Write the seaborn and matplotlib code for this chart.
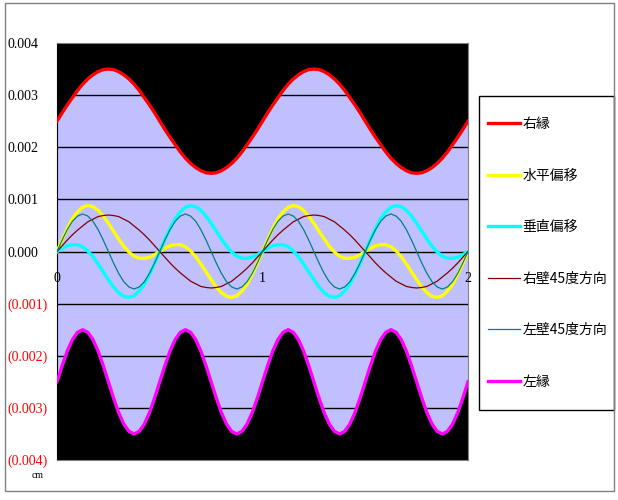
import numpy as np
import pandas as pd
import matplotlib
matplotlib.use("Agg")
import matplotlib.pyplot as plt
from matplotlib.patches import Rectangle
import seaborn as sns

# --- data (values in units of 1e-5) ---
x_cm = [round(0.025 * k, 3) for k in range(81)]

right_edge = [250, 266, 281, 295, 309, 321, 331, 339, 345, 349, 350, 349, 345, 339, 331, 321, 309, 295, 281, 266,
              250, 234, 219, 205, 191, 179, 169, 161, 155, 151, 150, 151, 155, 161, 169, 179, 191, 205, 219, 234,
              250, 266, 281, 295, 309, 321, 331, 339, 345, 349, 350, 349, 345, 339, 331, 321, 309, 295, 281, 266,
              250, 234, 219, 205, 191, 179, 169, 161, 155, 151, 150, 151, 155, 161, 169, 179, 191, 205, 219, 234,
              250]
horiz_shift = [0, 23, 44, 63, 76, 85, 88, 86, 79, 68, 54, 39, 24, 10, -1, -9, -13, -13, -11, -6,
               0, 6, 11, 13, 13, 9, 1, -10, -24, -39, -54, -68, -79, -86, -88, -85, -76, -63, -44, -23,
               0, 23, 44, 63, 76, 85, 88, 86, 79, 68, 54, 39, 24, 10, -1, -9, -13, -13, -11, -6,
               0, 6, 11, 13, 13, 9, 1, -10, -24, -39, -54, -68, -79, -86, -88, -85, -76, -63, -44, -23,
               0]
vert_shift = [0, 6, 11, 13, 13, 9, 1, -10, -24, -39, -54, -68, -79, -86, -88, -85, -76, -63, -44, -23,
              0, 23, 44, 63, 76, 85, 88, 86, 79, 68, 54, 39, 24, 10, -1, -9, -13, -13, -11, -6,
              0, 6, 11, 13, 13, 9, 1, -10, -24, -39, -54, -68, -79, -86, -88, -85, -76, -63, -44, -23,
              0, 23, 44, 63, 76, 85, 88, 86, 79, 68, 54, 39, 24, 10, -1, -9, -13, -13, -11, -6,
              0]
right_wall_45 = [0, 11, 22, 32, 41, 49, 57, 62, 67, 69, 70, 69, 67, 62, 57, 49, 41, 32, 22, 11,
                 0, -11, -22, -32, -41, -49, -57, -62, -67, -69, -70, -69, -67, -62, -57, -49, -41, -32, -22, -11,
                 0, 11, 22, 32, 41, 49, 57, 62, 67, 69, 70, 69, 67, 62, 57, 49, 41, 32, 22, 11,
                 0, -11, -22, -32, -41, -49, -57, -62, -67, -69, -70, -69, -67, -62, -57, -49, -41, -32, -22, -11,
                 0]
left_wall_45 = [0, 22, 42, 58, 68, 72, 68, 58, 42, 22, 0, -22, -42, -58, -68, -72, -68, -58, -42, -22,
                0, 22, 42, 58, 68, 72, 68, 58, 42, 22, 0, -22, -42, -58, -68, -72, -68, -58, -42, -22,
                0, 22, 42, 58, 68, 72, 68, 58, 42, 22, 0, -22, -42, -58, -68, -72, -68, -58, -42, -22,
                0, 22, 42, 58, 68, 72, 68, 58, 42, 22, 0, -22, -42, -58, -68, -72, -68, -58, -42, -22,
                0]
left_edge = [-250, -219, -191, -169, -155, -150, -155, -169, -191, -219, -250, -281, -309, -331, -345, -350, -345, -331, -309, -281,
             -250, -219, -191, -169, -155, -150, -155, -169, -191, -219, -250, -281, -309, -331, -345, -350, -345, -331, -309, -281,
             -250, -219, -191, -169, -155, -150, -155, -169, -191, -219, -250, -281, -309, -331, -345, -350, -345, -331, -309, -281,
             -250, -219, -191, -169, -155, -150, -155, -169, -191, -219, -250, -281, -309, -331, -345, -350, -345, -331, -309, -281,
             -250]

series_names = ["右縁", "水平偏移", "垂直偏移", "右壁45度方向", "左壁45度方向", "左縁"]
series_colors = ["#FF0000", "#FFFF00", "#00FFFF", "#800000", "#008080", "#FF00FF"]
series_widths = [2.4, 2.4, 2.4, 0.9, 0.9, 2.4]

y_ticks = [0.004, 0.003, 0.002, 0.001, 0.0, -0.001, -0.002, -0.003, -0.004]
y_tick_labels = ["0.004", "0.003", "0.002", "0.001", "0.000", "(0.001)", "(0.002)", "(0.003)", "(0.004)"]
x_ticks = [0, 1, 2]

scale = 1e-5
df = pd.DataFrame({"x": x_cm})
for name, vals in zip(series_names, [right_edge, horiz_shift, vert_shift, right_wall_45, left_wall_45, left_edge]):
    df[name] = np.array(vals) * scale

# --- figure ---
fig = plt.figure(figsize=(6.18, 5.0), dpi=100)
ax = fig.add_axes([57 / 618, 1 - 460 / 500, (468 - 57) / 618, (460 - 43) / 500])
ax.set_facecolor("#C0C0FF")
ax.set_xlim(0, 2)
ax.set_ylim(-0.004, 0.004)

# black regions outside the edges
ax.fill_between(df["x"], df["右縁"], 0.004, color="black", lw=0, zorder=1)
ax.fill_between(df["x"], df["左縁"], -0.004, color="black", lw=0, zorder=1)

for yv in y_ticks:
    ax.axhline(yv, color="black", lw=1.0, zorder=1.5)

handles = []
for name, col, lw in zip(series_names, series_colors, series_widths):
    sns.lineplot(data=df, x="x", y=name, color=col, linewidth=lw, ax=ax, zorder=3)
    handles.append(ax.lines[-1])

ax.set_xlabel("")
ax.set_ylabel("")
ax.set_xticks([])
ax.set_yticks(y_ticks)
ax.set_yticklabels(y_tick_labels, family="Liberation Serif", fontsize=10, ha="left")
for lab, v in zip(ax.get_yticklabels(), y_ticks):
    lab.set_color("#FF0000" if v < 0 else "black")
ax.tick_params(axis="y", length=0, pad=35.5)

for xv in x_ticks:
    ax.annotate(str(xv), (xv, 0), xytext=(0, -15), textcoords="offset points",
                ha="center", va="top", family="Liberation Serif", fontsize=10)

for side in ["top", "right", "bottom"]:
    ax.spines[side].set_color("#808080")
ax.spines["left"].set_color("black")

fig.text(38 / 618, 1 - 475 / 500, "cm", ha="center", va="center",
         family="Liberation Serif", fontsize=7)

# legend box drawn separately so the entries can sit where they do in the original
fig.patches.append(Rectangle((479 / 618, 1 - 410 / 500), (614 - 479) / 618, (410 - 96) / 500,
                             transform=fig.transFigure, fill=True, fc="white", ec="black", lw=1))
leg = fig.legend(handles, series_names, loc="upper left",
                 bbox_to_anchor=(488 / 618, 1 - 117 / 500), borderaxespad=0,
                 prop={"family": ["Noto Sans CJK JP", "DejaVu Sans"], "size": 10},
                 labelspacing=2.7, handlelength=2.3, handletextpad=0.2,
                 borderpad=0, frameon=False)

# outer border
fig.patches.append(Rectangle((5 / 618, 1 - 491 / 500), (614 - 5) / 618, (491 - 3) / 500,
                             transform=fig.transFigure, fill=False, ec="#808080", lw=1))

fig.savefig("out.png", dpi=100)
